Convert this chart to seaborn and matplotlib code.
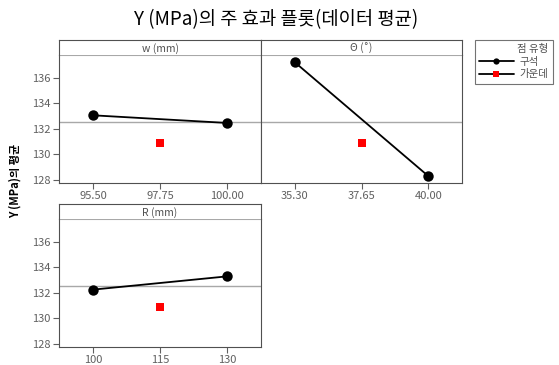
import matplotlib
matplotlib.use("Agg")
import matplotlib.pyplot as plt
from matplotlib.lines import Line2D
import seaborn as sns
import pandas as pd

# ---- data ----
factors = ["w (mm)", "Θ (˚)", "R (mm)"]
levels = [[95.50, 97.75, 100.00], [35.30, 37.65, 40.00], [100, 115, 130]]
tick_labels = [["95.50", "97.75", "100.00"], ["35.30", "37.65", "40.00"], ["100", "115", "130"]]
corner_means = [[133.07, 132.47], [137.23, 128.31], [132.26, 133.30]]
center_means = [130.93, 130.93, 130.93]
grand_mean = 132.57
y_ticks = [128, 130, 132, 134, 136]

sns.set_style("white")
plt.rcParams["font.family"] = ["Noto Sans CJK KR", "DejaVu Sans"]

W, H = 559, 365
fig = plt.figure(figsize=(W / 100, H / 100), dpi=100)

def fx(x):
    return x / W

def fy(y):
    return 1 - y / H

border = "#505050"
tickc = "#606060"

# panel boxes in pixel coords: (x0, x1, header_top, header_bottom, bottom)
panels = [(59, 261, 40, 55, 183), (261, 462, 40, 55, 183), (59, 261, 204, 219, 347)]
ylo, yhi = 127.76, 137.80

for i, (x0, x1, ht, hb, yb) in enumerate(panels):
    ax = fig.add_axes([fx(x0), fy(yb), fx(x1 - x0), (yb - hb) / H])
    hax = fig.add_axes([fx(x0), fy(hb), fx(x1 - x0), (hb - ht) / H])
    lv = levels[i]
    step = lv[1] - lv[0]
    corner_df = pd.DataFrame({"x": [lv[0], lv[2]], "y": corner_means[i]})
    center_df = pd.DataFrame({"x": [lv[1]], "y": [center_means[i]]})
    ax.axhline(grand_mean, color="#a8a8a8", lw=1.0, zorder=1)
    sns.lineplot(data=corner_df, x="x", y="y", ax=ax, color="black", lw=1.3,
                 marker="o", markersize=7.5, markeredgewidth=0, zorder=3)
    sns.scatterplot(data=center_df, x="x", y="y", ax=ax, color="#ff0000",
                    marker="s", s=40, linewidth=0, zorder=3)
    ax.set_xlim(lv[0] - 0.507 * step, lv[2] + 0.507 * step)
    ax.set_ylim(ylo, yhi)
    ax.set_xticks(lv)
    ax.set_xticklabels(tick_labels[i])
    ax.set_xlabel("")
    ax.set_ylabel("")
    ax.set_yticks(y_ticks)
    if i == 1:
        ax.tick_params(axis="y", left=False, labelleft=False)
    else:
        ax.tick_params(axis="y", left=True, length=4, width=0.8, color=tickc,
                       labelsize=8, labelcolor=tickc, pad=2)
    ax.tick_params(axis="x", bottom=True, length=4, width=0.8, color=tickc,
                   labelsize=8, labelcolor=tickc, pad=2)
    for s in ax.spines.values():
        s.set_color(border)
        s.set_linewidth(0.8)
    ax.spines["top"].set_color("#a8a8a8")
    # header strip
    hax.set_xticks([])
    hax.set_yticks([])
    for s in hax.spines.values():
        s.set_color(border)
        s.set_linewidth(0.8)
    hax.spines["bottom"].set_visible(False)
    hax.text(0.5, 0.45, factors[i], ha="center", va="center", fontsize=7.5,
             color="#505050", transform=hax.transAxes)

fig.text(fx(276), fy(20), "Y (MPa)의 주 효과 플롯(데이터 평균)", ha="center",
         va="center", fontsize=13.5, color="black")
fig.text(fx(15), fy(181), "Y (MPa)의 평균", rotation=90, ha="center",
         va="center", fontsize=8, fontweight="bold", color="black")

handles = [
    Line2D([], [], color="black", lw=1.3, marker="o", markersize=4.5, markeredgewidth=0),
    Line2D([], [], color="black", lw=1.3, marker="s", markersize=4,
           markerfacecolor="#ff0000", markeredgewidth=0),
]
leg = fig.legend(handles, ["구석", "가운데"], title="점 유형",
                 loc="upper left", bbox_to_anchor=(fx(475), fy(40)),
                 frameon=True, fancybox=False, fontsize=7.5, title_fontsize=7.5,
                 handlelength=3.3, handletextpad=0.6, borderpad=0.4,
                 labelspacing=0.25, borderaxespad=0)
leg.get_frame().set_edgecolor(border)
leg.get_frame().set_linewidth(0.8)
leg._legend_box.align = "right"
for t in leg.get_texts():
    t.set_color("#505050")
leg.get_title().set_color("#505050")

fig.savefig("out.png", dpi=100)
